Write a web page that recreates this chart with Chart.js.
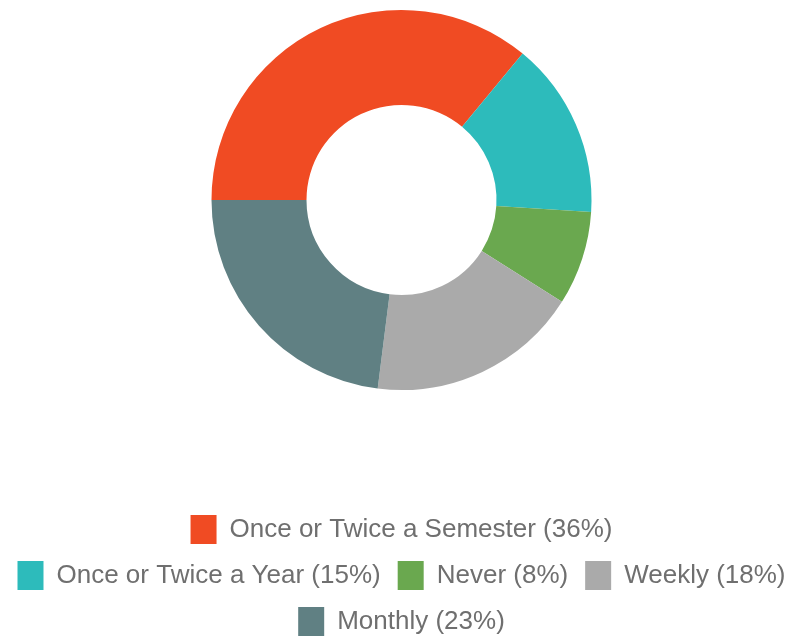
<!DOCTYPE html>
<html>
<head>
<meta charset="utf-8">
<script src="https://cdn.jsdelivr.net/npm/chart.js@4/dist/chart.umd.min.js"></script>
<style>
  html, body { margin: 0; padding: 0; background: #fff; }
  #wrap { width: 803px; height: 640px; }
</style>
</head>
<body>
<div id="wrap"><canvas id="grafico"></canvas></div>
<script>
const categorias = ['Once or Twice a Semester', 'Once or Twice a Year', 'Never', 'Weekly', 'Monthly'];
const valores = [36, 15, 8, 18, 23];
const cores = ['#F04B23', '#2DBBBB', '#6AA84F', '#AAAAAA', '#608083'];

const rotulos = categorias.map((c, i) => c + ' (' + valores[i] + '%)');

const ctx = document.getElementById('grafico').getContext('2d');

new Chart(ctx, {
    type: 'doughnut',
    data: {
        labels: rotulos,
        datasets: [{
            data: valores,
            backgroundColor: cores,
            borderWidth: 0
        }]
    },
    options: {
        responsive: true,
        maintainAspectRatio: false,
        animation: false,
        rotation: -90,
        cutout: '50%',
        layout: {
            padding: { top: 10, left: 0, right: 0, bottom: -6 }
        },
        plugins: {
            tooltip: { enabled: false },
            legend: {
                position: 'bottom',
                // titulo vazio so para abrir espaco entre o grafico e a legenda
                title: {
                    display: true,
                    text: ' ',
                    padding: { top: 60, bottom: 33.6 }
                },
                labels: {
                    color: '#6f6f6f',
                    boxWidth: 26,
                    boxHeight: 29,
                    padding: 17,
                    font: { family: '"Liberation Sans", Arial, sans-serif', size: 26 }
                }
            }
        }
    }
});
</script>
</body>
</html>
